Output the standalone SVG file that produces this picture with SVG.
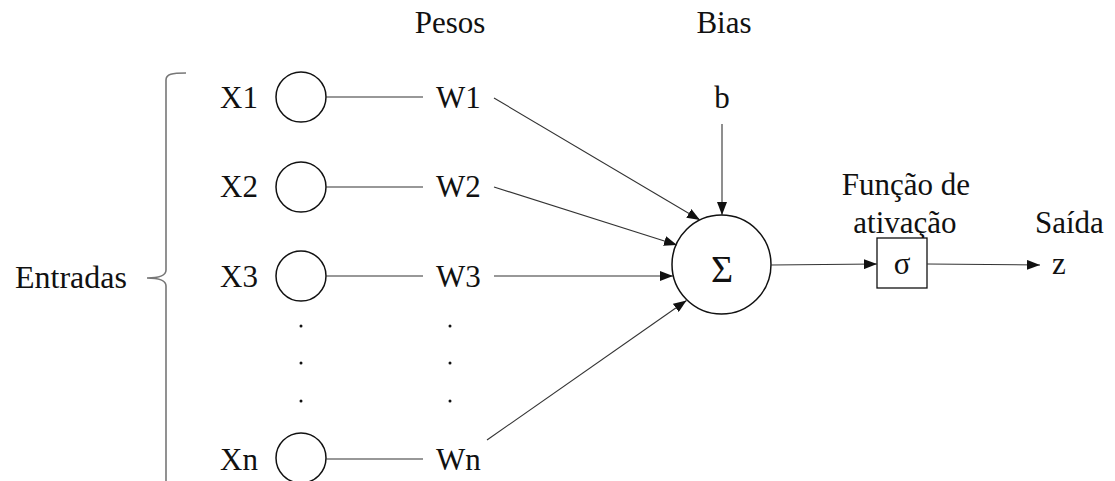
<svg xmlns="http://www.w3.org/2000/svg" width="1115" height="481" viewBox="0 0 1115 481">
  <style>
    text { font-family: "Liberation Serif", "Times New Roman", serif; font-size: 31px; fill: #111; }
    .node { fill: #fff; stroke: #111; stroke-width: 1.5; }
    .wire { fill: none; stroke: #333; stroke-width: 1.1; }
    .arrow { fill: none; stroke: #333; stroke-width: 1.1; marker-end: url(#head); }
    .brace { fill: none; stroke: #777; stroke-width: 1.6; }
    .dot { fill: #111; }
  </style>
  <defs>
    <marker id="head" markerWidth="14" markerHeight="10" refX="13" refY="5" orient="auto" markerUnits="userSpaceOnUse">
      <path d="M0,0 L13,5 L0,10 Z" fill="#111"/>
    </marker>
  </defs>

  <rect width="1115" height="481" fill="#fff"/>

  <!-- column headings -->
  <text x="450" y="33" text-anchor="middle">Pesos</text>
  <text x="724" y="33" text-anchor="middle">Bias</text>

  <!-- input brace -->
  <g id="entradas">
    <path class="brace" d="M186,73 C172,73 166,74 166,80 L166,270 C166,275 160,278 147,278 C160,278 166,281 166,286 L166,481"/>
    <text x="15" y="288" style="font-size:32px">Entradas</text>
  </g>

  <!-- inputs -->
  <g id="x1">
    <text x="258" y="108" text-anchor="end">X1</text>
    <circle class="node" cx="301" cy="97" r="25"/>
  </g>
  <g id="x2">
    <text x="258" y="197" text-anchor="end">X2</text>
    <circle class="node" cx="301" cy="187" r="25"/>
  </g>
  <g id="x3">
    <text x="258" y="287" text-anchor="end">X3</text>
    <circle class="node" cx="301" cy="276" r="25"/>
  </g>
  <g id="xdots">
    <circle class="dot" cx="301" cy="326" r="1.5"/>
    <circle class="dot" cx="301" cy="363" r="1.5"/>
    <circle class="dot" cx="301" cy="401" r="1.5"/>
  </g>
  <g id="xn">
    <text x="258" y="470" text-anchor="end">Xn</text>
    <circle class="node" cx="301" cy="458" r="25"/>
  </g>

  <!-- weights -->
  <g id="w1"><text x="436" y="108">W1</text></g>
  <g id="w2"><text x="436" y="197">W2</text></g>
  <g id="w3"><text x="436" y="287">W3</text></g>
  <g id="wdots">
    <circle class="dot" cx="450" cy="326" r="1.5"/>
    <circle class="dot" cx="450" cy="363" r="1.5"/>
    <circle class="dot" cx="450" cy="401" r="1.5"/>
  </g>
  <g id="wn"><text x="436" y="470">Wn</text></g>

  <!-- bias -->
  <g id="bias"><text x="722" y="108" text-anchor="middle">b</text></g>

  <!-- summation -->
  <g id="soma">
    <circle class="node" cx="721.5" cy="264.5" r="49.5"/>
    <text x="722" y="282" text-anchor="middle" style="font-size:38px">Σ</text>
  </g>

  <!-- activation -->
  <g id="ativacao">
    <text x="906" y="195" text-anchor="middle">Função de</text>
    <text x="905" y="233" text-anchor="middle">ativação</text>
    <rect class="node" x="877" y="238" width="50" height="50" style="stroke-width:1.3"/>
    <text x="902" y="274" text-anchor="middle">σ</text>
  </g>

  <!-- output -->
  <g id="saida">
    <text x="1035" y="233">Saída</text>
    <text x="1052" y="274">z</text>
  </g>

  <!-- connectors -->
  <g id="connectors">
    <line class="wire" x1="326" y1="97" x2="423" y2="97"/>
    <line class="wire" x1="326" y1="187" x2="423" y2="187"/>
    <line class="wire" x1="326" y1="276" x2="423" y2="276"/>
    <line class="wire" x1="326" y1="459" x2="423" y2="459"/>

    <line class="arrow" x1="494" y1="98" x2="700" y2="220"/>
    <line class="arrow" x1="494" y1="187" x2="677" y2="245"/>
    <line class="arrow" x1="494" y1="276" x2="673" y2="276"/>
    <line class="arrow" x1="487" y1="440" x2="686.5" y2="300.5"/>

    <line class="arrow" x1="722" y1="124" x2="722" y2="215"/>

    <line class="arrow" x1="771" y1="265" x2="877" y2="264"/>
    <line class="arrow" x1="927" y1="264" x2="1040" y2="265"/>
  </g>
</svg>
